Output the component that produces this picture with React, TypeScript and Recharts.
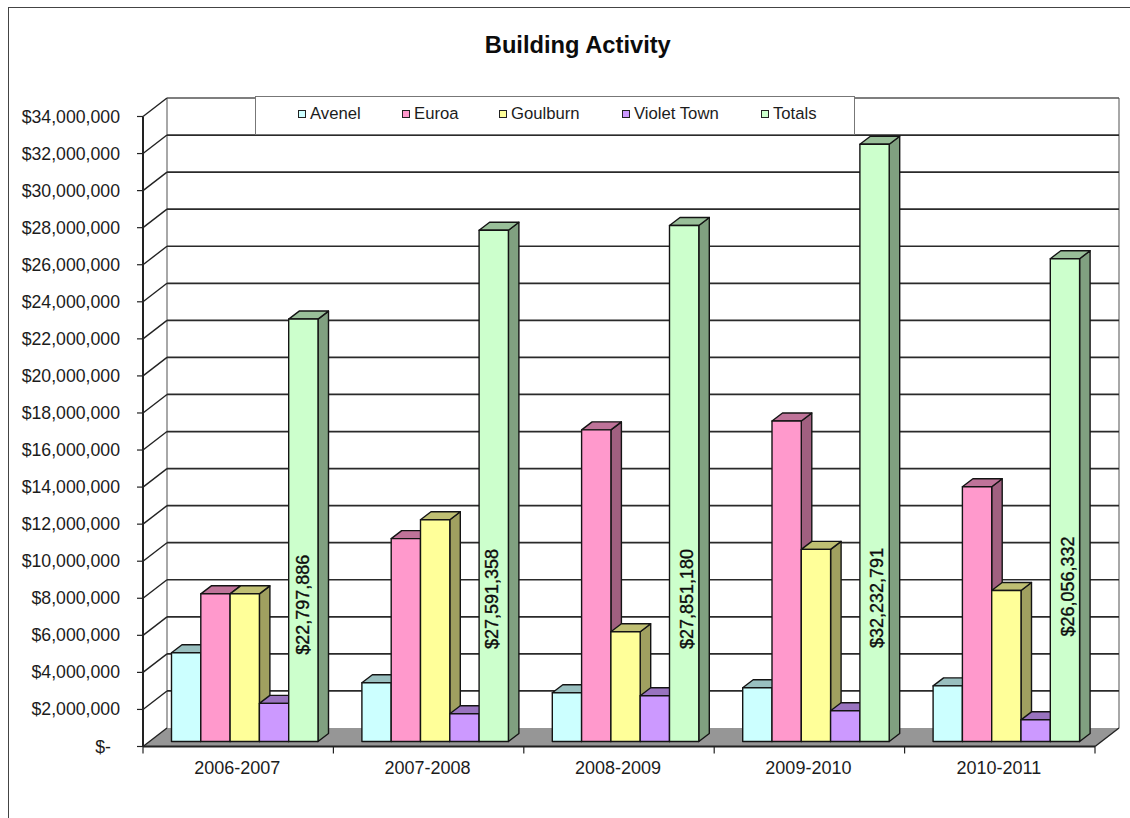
import React from "react";
import { BarChart, Bar, XAxis, YAxis, CartesianGrid, Legend, LabelList, Customized } from "recharts";

// ---- data ----
const categories = ["2006-2007", "2007-2008", "2008-2009", "2009-2010", "2010-2011"];
const avenel = [4790000, 3170000, 2630000, 2900000, 3000000];
const euroa = [7970000, 10950000, 16820000, 17300000, 13750000];
const goulburn = [7970000, 11970000, 5920000, 10370000, 8150000];
const violetTown = [2060000, 1500000, 2470000, 1660000, 1170000];
const totals = [22797886, 27591358, 27851180, 32232791, 26056332];
const yTicks = [
  0, 2000000, 4000000, 6000000, 8000000, 10000000, 12000000, 14000000, 16000000, 18000000,
  20000000, 22000000, 24000000, 26000000, 28000000, 30000000, 32000000, 34000000,
];
// where along the value axis the centre of each rotated Totals label sits
const totalsLabelAnchor = [7380000, 7690000, 7690000, 7750000, 8370000];

const rows = categories.map((category, i) => ({
  category,
  Avenel: avenel[i],
  Euroa: euroa[i],
  Goulburn: goulburn[i],
  "Violet Town": violetTown[i],
  Totals: totals[i],
}));

const seriesList = [
  { key: "Avenel", fill: "#CCFFFF", top: "#99BFBF", side: "#80A0A0" },
  { key: "Euroa", fill: "#FF99CC", top: "#BF7399", side: "#A06080" },
  { key: "Goulburn", fill: "#FFFF99", top: "#BFBF73", side: "#A0A060" },
  { key: "Violet Town", fill: "#CC99FF", top: "#9973BF", side: "#8060A0" },
  { key: "Totals", fill: "#CCFFCC", top: "#99BF99", side: "#80A080" },
];

// ---- layout ----
const W = 1130;
const H = 818;
const LEFT = 143;
const RIGHT = 1095;
const TOP = 116.5;
const BOTTOM = 746.5;
const WALL_DX = 24;
const WALL_DY = -18.5;
const BAR_DX = 6.5;
const BAR_DY = -5;
const DEPTH_X = 10.5;
const DEPTH_Y = -8;
const FONT = "'Liberation Sans', Arial, sans-serif";
const INK = "#1c1c1c";
const legendSpots = [43, 147, 244, 367, 506];

const Bar3D = (props: any) => {
  const { x, y, width, height, fill, top, side } = props;
  if (!(height > 0)) return null;
  const l = x + BAR_DX;
  const r = l + width;
  const t = y + BAR_DY;
  const b = t + height;
  const common = { stroke: "#141414", strokeWidth: 1.4, strokeLinejoin: "round" as const };
  return (
    <g>
      <polygon points={`${r},${t} ${r + DEPTH_X},${t + DEPTH_Y} ${r + DEPTH_X},${b + DEPTH_Y} ${r},${b}`} fill={side} {...common} />
      <polygon points={`${l},${t} ${l + DEPTH_X},${t + DEPTH_Y} ${r + DEPTH_X},${t + DEPTH_Y} ${r},${t}`} fill={top} {...common} />
      <rect x={l} y={t} width={width} height={height} fill={fill} {...common} />
    </g>
  );
};

const TotalsLabel = (props: any) => {
  const box = props.viewBox ?? props;
  const { x, y, width, height } = box;
  const nudgeX = [0, -1.5, 3, 2, 3][props.index] ?? 0;
  const value = totals[props.index];
  const cx = x + width / 2 + BAR_DX + nudgeX;
  const cy = y + height - (totalsLabelAnchor[props.index] / value) * height + BAR_DY;
  return (
    <text
      x={cx}
      y={cy}
      transform={`rotate(-90 ${cx} ${cy})`}
      textAnchor="middle"
      dominantBaseline="central"
      fontFamily={FONT}
      fontSize={18}
      fill="#0c0c0c"
      stroke="#0c0c0c"
      strokeWidth={0.35}
    >
      {"$" + value.toLocaleString("en-US")}
    </text>
  );
};

const gridRow = (props: any) => {
  const { x1, y1, x2, index } = props;
  const isFloor = Math.abs(y1 - BOTTOM) < 1;
  const isTop = Math.abs(y1 - TOP) < 1;
  const by = y1 + WALL_DY;
  return (
    <g key={`row-${index}`}>
      {isFloor && (
        <>
          <polygon
            points={`${x1},${y1} ${x1 + WALL_DX},${by} ${x2 + WALL_DX},${by} ${x2},${y1}`}
            fill="#969696"
          />
          <line x1={x1 + WALL_DX} y1={TOP + WALL_DY} x2={x1 + WALL_DX} y2={by} stroke="#a8a8a8" strokeWidth={2} />
          <line x1={x2 + WALL_DX} y1={TOP + WALL_DY} x2={x2 + WALL_DX} y2={by} stroke="#a8a8a8" strokeWidth={2} />
          <line x1={x2} y1={y1} x2={x2 + WALL_DX} y2={by} stroke="#222" strokeWidth={1.4} />
        </>
      )}
      <line x1={x1} y1={y1} x2={x1 + WALL_DX} y2={by} stroke="#222" strokeWidth={1.4} />
      {!isFloor && (
        <line x1={x1 + WALL_DX} y1={by} x2={x2 + WALL_DX} y2={by} stroke={isTop ? "#555" : "#2a2a2a"} strokeWidth={1.7} />
      )}
    </g>
  );
};

const YTick = (props: any) => {
  const { y, payload } = props;
  const v = payload.value as number;
  return (
    <text
      x={v === 0 ? 111 : 120}
      y={y}
      textAnchor="end"
      dominantBaseline="central"
      fontFamily={FONT}
      fontSize={17.7}
      fill={INK}
    >
      {v === 0 ? "$-" : "$" + v.toLocaleString("en-US")}
    </text>
  );
};

const XTick = (props: any) => {
  const { x, payload, index } = props;
  const band = (RIGHT - LEFT) / categories.length;
  return (
    <g>
      <line x1={x - band / 2} y1={BOTTOM} x2={x - band / 2} y2={BOTTOM + 7} stroke="#222" strokeWidth={1.2} />
      {index === categories.length - 1 && (
        <line x1={x + band / 2} y1={BOTTOM} x2={x + band / 2} y2={BOTTOM + 7} stroke="#222" strokeWidth={1.2} />
      )}
      <text
        x={x - 1}
        y={BOTTOM + 21}
        textAnchor="middle"
        dominantBaseline="central"
        fontFamily={FONT}
        fontSize={18}
        fill={INK}
      >
        {payload.value}
      </text>
    </g>
  );
};

const LegendBox = (props: any) => (
  <div
    style={{
      position: "relative",
      width: 600,
      height: 39,
      boxSizing: "border-box",
      background: "#fff",
      border: "1px solid #777",
      fontFamily: FONT,
      fontSize: 16.7,
      color: INK,
    }}
  >
    {(props.payload ?? []).map((item: any, i: number) => (
      <React.Fragment key={item.value}>
        <span
          style={{
            position: "absolute",
            left: legendSpots[i] - 1,
            top: 13,
            width: 6,
            height: 6,
            border: "1.5px solid #222",
            background: item.color,
          }}
        />
        <span style={{ position: "absolute", left: legendSpots[i] + 11, top: 8, lineHeight: "18px", whiteSpace: "nowrap" }}>
          {item.value}
        </span>
      </React.Fragment>
    ))}
  </div>
);

const Title = () => (
  <text x={577.8} y={52.5} textAnchor="middle" fontFamily={FONT} fontSize={23.7} fontWeight="bold" fill="#0c0c0c">
    Building Activity
  </text>
);

export default function App() {
  return (
    <div style={{ position: "absolute", left: 0, top: 0, width: W, height: H, background: "#fff", overflow: "hidden" }}>
      <div
        style={{
          position: "absolute",
          left: 8,
          top: 7,
          width: W,
          height: H,
          borderLeft: "1.5px solid #444",
          borderTop: "1.5px solid #444",
        }}
      />
      <BarChart
        width={W}
        height={H}
        data={rows}
        margin={{ left: 0, top: TOP, right: W - RIGHT, bottom: 0 }}
        barSize={29.3}
        barGap={0}
      >
        <CartesianGrid horizontal={gridRow} vertical={false} />
        <Customized component={Title} />
        <XAxis
          dataKey="category"
          height={H - BOTTOM}
          interval={0}
          tickLine={false}
          axisLine={{ stroke: "#222", strokeWidth: 2 }}
          tick={<XTick />}
        />
        <YAxis
          width={LEFT}
          domain={[0, 34000000]}
          ticks={yTicks}
          interval={0}
          tickSize={6}
          tickLine={{ stroke: "#222", strokeWidth: 1.2 }}
          axisLine={{ stroke: "#222", strokeWidth: 2 }}
          tick={<YTick />}
        />
        {seriesList.map((s) => (
          <Bar
            key={s.key}
            dataKey={s.key}
            name={s.key}
            fill={s.fill}
            isAnimationActive={false}
            shape={(p: any) => <Bar3D {...p} fill={s.fill} top={s.top} side={s.side} />}
          >
            {s.key === "Totals" && <LabelList dataKey="Totals" content={<TotalsLabel />} />}
          </Bar>
        ))}
        <Legend
          layout="horizontal"
          align="center"
          verticalAlign="middle"
          itemSorter={null}
          content={<LegendBox />}
          wrapperStyle={{ left: 255, top: 95.5, width: 600, height: 39 }}
        />
      </BarChart>
    </div>
  );
}
